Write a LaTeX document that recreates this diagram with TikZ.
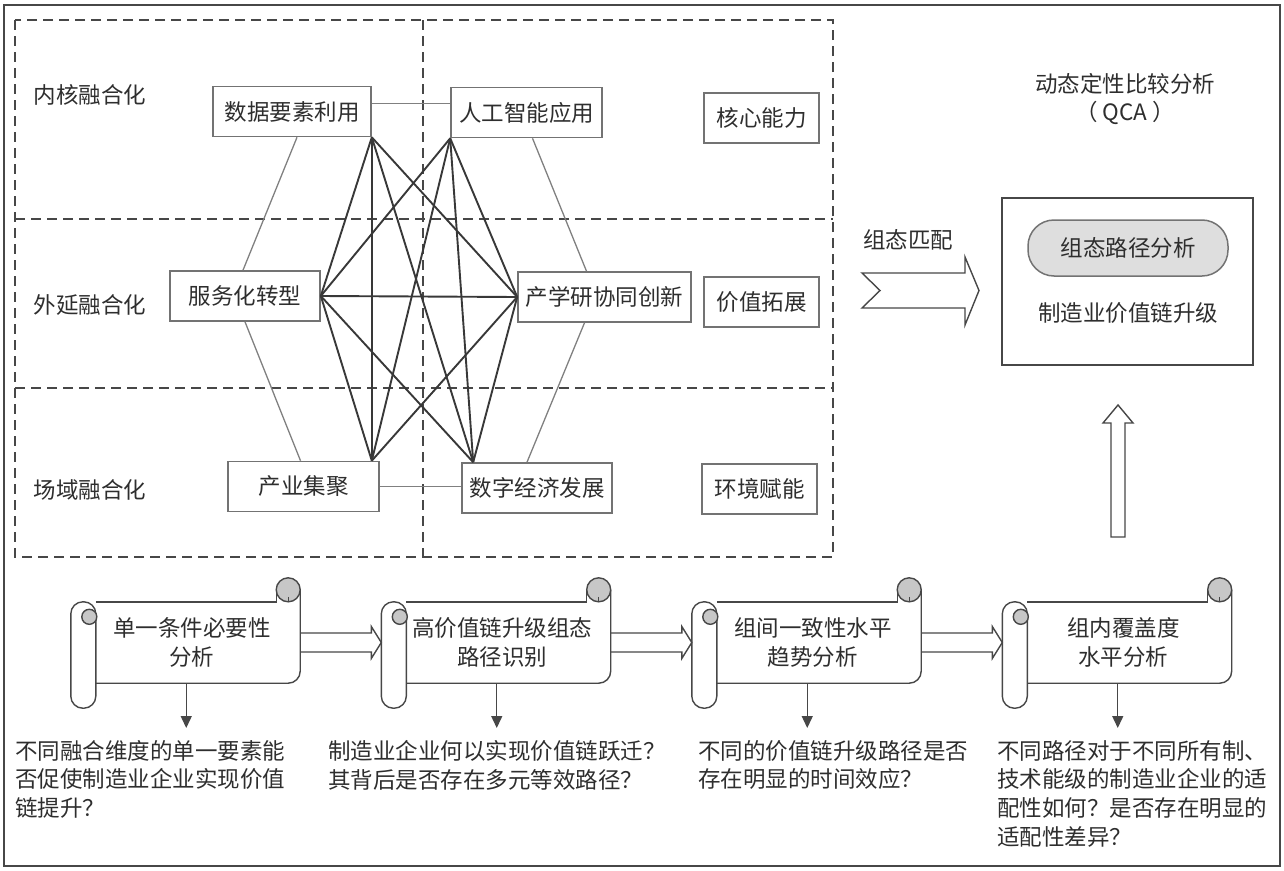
\documentclass[tikz,border=0pt]{standalone}
\usepackage{fontspec}
\setmainfont{Noto Sans CJK SC}
\usepackage{tikz}
\usetikzlibrary{arrows.meta}
\colorlet{framegray}{black!72}
\colorlet{boxgray}{black!55}
\colorlet{linkgray}{black!50}
\colorlet{webgray}{black!78}
\colorlet{curlgray}{black!22}
\colorlet{pillgray}{black!13}
\colorlet{textgray}{black!82}

\tikzset{
  every node/.style={font=\fontsize{22.5}{28.7}\selectfont, text=textgray},
  factor/.style={draw=boxgray, line width=1.6pt, inner sep=0pt, minimum height=50pt},
  zone/.style={draw=framegray, line width=1.6pt, dash pattern=on 10pt off 6pt},
  link/.style={draw=linkgray, line width=1.3pt},
  web/.style={draw=webgray, line width=1.9pt},
  scrollbody/.style={inner sep=0pt, minimum width=216.5pt, minimum height=81pt, align=center},
  scrollline/.style={draw=framegray, line width=1.4pt},
  question/.style={anchor=north west, inner sep=0pt, align=left},
  qarrow/.style={draw=framegray, line width=1.4pt, -{Triangle[length=12pt,width=11pt]}, shorten >=12pt},
}

\newcommand{\scrollframe}[1]{%
  \draw[scrollline] ([xshift=12.5pt]#1.north west) -- ([xshift=-24pt]#1.north east)
    -- ([xshift=-24pt,yshift=12pt]#1.north east);
  \draw[scrollline, rounded corners=12pt] ([yshift=12pt]#1.north east) -- (#1.south east)
    -- ([xshift=12.5pt]#1.south west);
  \draw[scrollline, fill=curlgray] ([xshift=-12pt,yshift=12pt]#1.north east) circle[radius=12pt];
  \draw[scrollline] ([xshift=-12pt,yshift=5pt]#1.north east) -- ([xshift=-12pt]#1.north east);
  \draw[scrollline, fill=white, rounded corners=12pt] ([xshift=-12.5pt]#1.north west)
    rectangle ([xshift=12.5pt,yshift=-25pt]#1.south west);
  \draw[scrollline, fill=curlgray] ([xshift=6pt,yshift=-15pt]#1.north west) circle[radius=7.5pt];
}

\newcommand{\linkarrow}[2]{%
  \draw[scrollline] ([yshift=9.5pt]#1.east) -- ([xshift=-22.5pt,yshift=9.5pt]#2.west)
    -- ([xshift=-22.5pt,yshift=16pt]#2.west) -- ([xshift=-12.5pt]#2.west)
    -- ([xshift=-22.5pt,yshift=-16pt]#2.west) -- ([xshift=-22.5pt,yshift=-9.5pt]#2.west)
    -- ([yshift=-9.5pt]#1.east);
}

\begin{document}
\begin{tikzpicture}[x=1pt,y=-1pt]
      \useasboundingbox (0,0) rectangle (1284,870);
      \draw[framegray, line width=2pt] (4,5) rectangle (1280,866);

      \draw[zone] (15,20) rectangle (833,557);
      \draw[zone] (423,20) -- (423,557);
      \draw[zone] (15,219) -- (833,219);
      \draw[zone] (15,388) -- (833,388);

      \node (inner) at (90,95) {内核融合化};
      \node (outer) at (90,305) {外延融合化};
      \node (field) at (90,490) {场域融合化};

      \node[factor, minimum width=158pt] (data) at (292,111.5) {数据要素利用};
      \node[factor, minimum width=151pt] (ai) at (526.5,112.5) {人工智能应用};
      \node[factor, minimum width=115pt] (core) at (761.5,118) {核心能力};
      \node[factor, minimum width=150pt] (serv) at (245,296) {服务化转型};
      \node[factor, minimum width=173pt] (univ) at (604.5,297) {产学研协同创新};
      \node[factor, minimum width=115pt] (value) at (761.5,302) {价值拓展};
      \node[factor, minimum width=151pt] (cluster) at (303.5,486.5) {产业集聚};
      \node[factor, minimum width=150pt] (digit) at (537,488) {数字经济发展};
      \node[factor, minimum width=115pt] (env) at (759.5,489) {环境赋能};

      \draw[link] ([yshift=8pt]data.east) -- ([yshift=8pt]data.east -| ai.west);
      \draw[link] (cluster.east) -- (cluster.east -| digit.west);
      \draw[link] ([xshift=5pt]data.south) -- ([xshift=-2pt]serv.north);
      \draw[link] ([xshift=6pt]ai.south) -- ([xshift=-18pt]univ.north);
      \draw[link] (serv.south) -- ([xshift=-3pt]cluster.north);
      \draw[link] ([xshift=-20pt]univ.south) -- ([xshift=-10pt]digit.north);

      \coordinate (p1) at (data.south east);
      \coordinate (p2) at (ai.south west);
      \coordinate (p3) at (serv.east);
      \coordinate (p4) at (univ.west);
      \coordinate (p5) at (data.south east |- cluster.north);
      \coordinate (p6) at ([xshift=12pt]digit.north west);
      \foreach \a/\b in {p1/p3,p1/p4,p1/p5,p1/p6,p2/p3,p2/p4,p2/p5,p2/p6,p3/p4,p3/p5,p3/p6,p4/p5,p4/p6}
        \draw[web] (\a) -- (\b);

      \node[align=center] (method) at (1125,99) {动态定性比较分析\\（ QCA ）};
      \node (match) at (908,240) {组态匹配};
      \draw[scrollline] (862,273) -- (965,273) -- (965,257) -- (979,290.5) -- (965,325)
        -- (965,308) -- (862,308) -- (880,290.5) -- cycle;

      \node[draw=framegray, line width=1.5pt, minimum width=251pt, minimum height=167pt] (qca) at (1127.5,281.5) {};
      \node[draw=boxgray, fill=pillgray, line width=1.5pt, rounded corners=26pt, minimum width=200pt, minimum height=56pt] (config) at (1128,248) {组态路径分析};
      \node (upgrade) at (1128,313) {制造业价值链升级};

      \draw[scrollline] (1111,537) -- (1111,423) -- (1103,423) -- (1118,405) -- (1133,423)
        -- (1125,423) -- (1125,537) -- cycle;

      \node[scrollbody] (s1) at (191.75,642.5) {单一条件必要性\\分析};
      \node[scrollbody] (s2) at (502.25,642.5) {高价值链升级组态\\路径识别};
      \node[scrollbody] (s3) at (812.75,642.5) {组间一致性水平\\趋势分析};
      \node[scrollbody] (s4) at (1123.25,642.5) {组内覆盖度\\水平分析};
      \scrollframe{s1}
      \scrollframe{s2}
      \scrollframe{s3}
      \scrollframe{s4}
      \linkarrow{s1}{s2}
      \linkarrow{s2}{s3}
      \linkarrow{s3}{s4}

      \node[question] (q1) at (15,740) {不同融合维度的单一要素能\\否促使制造业企业实现价值\\链提升？};
      \node[question] (q2) at (328,740) {制造业企业何以实现价值链跃迁？\\其背后是否存在多元等效路径？};
      \node[question] (q3) at (698,740) {不同的价值链升级路径是否\\存在明显的时间效应？};
      \node[question] (q4) at (997,740) {不同路径对于不同所有制、\\技术能级的制造业企业的适\\配性如何？是否存在明显的\\适配性差异？};

      \draw[qarrow] ([xshift=-5.5pt]s1.south) -- ([xshift=-5.5pt]s1.south |- q1.north);
      \draw[qarrow] ([xshift=-5.5pt]s2.south) -- ([xshift=-5.5pt]s2.south |- q2.north);
      \draw[qarrow] ([xshift=-5.5pt]s3.south) -- ([xshift=-5.5pt]s3.south |- q3.north);
      \draw[qarrow] ([xshift=-5.5pt]s4.south) -- ([xshift=-5.5pt]s4.south |- q4.north);
\end{tikzpicture}
\end{document}
